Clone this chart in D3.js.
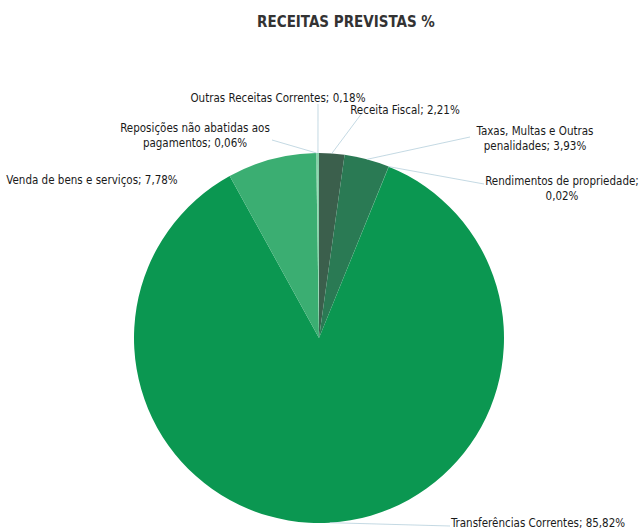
<!DOCTYPE html>
<html>
<head>
<meta charset="utf-8">
<script src="https://cdn.jsdelivr.net/npm/d3@7"></script>
<style>
  body { margin: 0; background: #fff; }
  text { font-family: "Liberation Sans Narrow", "DejaVu Sans Condensed", "Open Sans", sans-serif; fill: #1a1a1a; }
</style>
</head>
<body>
<div id="chart"></div>
<script>
// 1. Data
const categories = [
  "Receita Fiscal",
  "Taxas, Multas e Outras penalidades",
  "Rendimentos de propriedade",
  "Transferências Correntes",
  "Venda de bens e serviços",
  "Reposições não abatidas aos pagamentos",
  "Outras Receitas Correntes",
]
const values = [2.21, 3.93, 0.02, 85.82, 7.78, 0.06, 0.18]
const colors = ["#3b5f4c", "#2a7a54", "#1c8a55", "#0b9751", "#3bae72", "#6cc496", "#86d2a8"]

// label lines as Excel wrapped them, and where they sit
const labelLines = [
  ["Receita Fiscal; 2,21%"],
  ["Taxas, Multas e Outras", "penalidades; 3,93%"],
  ["Rendimentos de propriedade;", "0,02%"],
  ["Transferências Correntes; 85,82%"],
  ["Venda de bens e serviços; 7,78%"],
  ["Reposições não abatidas aos", "pagamentos; 0,06%"],
  ["Outras Receitas Correntes; 0,18%"],
]
const labelLayout = [
  { x: 405, y: 114, lineEnd: [362, 113] },
  { x: 535, y: 135, lineEnd: [470, 137] },
  { x: 562, y: 185, lineEnd: [484, 184] },
  { x: 538, y: 527, lineEnd: [450, 526] },
  { x: 92, y: 184, lineEnd: null },
  { x: 195, y: 132, lineEnd: [272, 140] },
  { x: 278, y: 102, lineEnd: [318, 104] },
]

// 2. Dimensions
const dimensions = { width: 640, height: 531, cx: 319, cy: 338, radius: 185 }

// 3. Canvas
const wrapper = d3.select("#chart")
  .append("svg")
    .attr("width", dimensions.width)
    .attr("height", dimensions.height)

wrapper.append("text")
    .attr("x", 346)
    .attr("y", 27)
    .attr("text-anchor", "middle")
    .style("font-size", "15px")
    .style("font-weight", "bold")
    .style("fill", "#333")
    .text("RECEITAS PREVISTAS %")

const bounds = wrapper.append("g")
    .attr("transform", `translate(${dimensions.cx}, ${dimensions.cy})`)

// 4. Pie
const dataset = categories.map((c, i) => ({ name: c, value: values[i], color: colors[i], i }))

const pie = d3.pie()
    .value(d => d.value)
    .sort(null)

const arc = d3.arc()
    .innerRadius(0)
    .outerRadius(dimensions.radius)

const arcs = pie(dataset)

bounds.selectAll("path")
  .data(arcs)
  .join("path")
    .attr("d", arc)
    .attr("fill", d => d.data.color)

// 5. Leader lines and labels
const edgeArc = d3.arc()
    .innerRadius(dimensions.radius)
    .outerRadius(dimensions.radius)

bounds.selectAll("line.leader")
  .data(arcs.filter(d => labelLayout[d.index].lineEnd))
  .join("line")
    .attr("class", "leader")
    .attr("x1", d => edgeArc.centroid(d)[0])
    .attr("y1", d => edgeArc.centroid(d)[1])
    .attr("x2", d => labelLayout[d.index].lineEnd[0] - dimensions.cx)
    .attr("y2", d => labelLayout[d.index].lineEnd[1] - dimensions.cy)
    .attr("stroke", "#b5cfdc")
    .attr("stroke-width", 0.8)

const labels = wrapper.selectAll("text.label")
  .data(arcs)
  .join("text")
    .attr("class", "label")
    .attr("text-anchor", "middle")
    .attr("x", d => labelLayout[d.index].x)
    .attr("y", d => labelLayout[d.index].y)
    .style("font-size", "11.5px")

labels.selectAll("tspan")
  .data(d => labelLines[d.index].map(t => ({ t, x: labelLayout[d.index].x })))
  .join("tspan")
    .attr("x", d => d.x)
    .attr("dy", (d, i) => i === 0 ? 0 : 15)
    .text(d => d.t)
</script>
</body>
</html>
